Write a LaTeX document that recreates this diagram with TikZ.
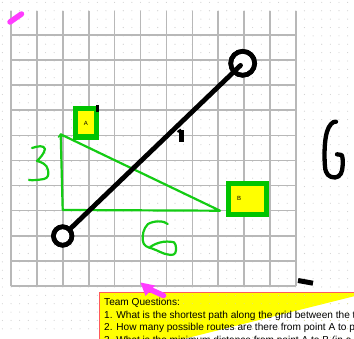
\documentclass[tikz,border=0pt]{standalone}
\usepackage{fontspec}
\setmainfont{Liberation Sans}
\usetikzlibrary{calc}
\definecolor{hgreen}{HTML}{14CC14}
\definecolor{boxgreen}{HTML}{00C400}
\definecolor{hyellow}{HTML}{FFFF00}
\definecolor{hmag}{HTML}{FF3CFF}
\definecolor{gridgray}{HTML}{B8B8B8}
\definecolor{dotgray}{HTML}{CFCFCF}
\definecolor{qborder}{HTML}{FF5A5A}
\tikzset{
  gridline/.style={draw=gridgray, line width=1.6pt},
  greenstroke/.style={draw=hgreen, line width=2.2pt, line cap=round, line join=round},
  inkstroke/.style={draw=black, line width=4.8pt, line cap=round, line join=round},
  labelbox/.style={draw=boxgreen, fill=hyellow, inner sep=0pt, font=\fontsize{6}{6}\selectfont},
  endcircle/.style={circle, draw=black, line width=4.6pt, fill=white, inner sep=0pt},
  qtext/.style={anchor=base west, inner sep=0pt, font=\fontsize{10.1}{12}\selectfont}
}
\begin{document}
\begin{tikzpicture}[x=1pt, y=-1pt]
\useasboundingbox (0,0) rectangle (354,339);
\clip (0,0) rectangle (354,339);
\fill[white] (0,0) rectangle (354,339);
% background dots
\foreach \i in {0,...,41} {
  \foreach \j in {0,...,39} {
    \fill[dotgray] ({2.4+8.63*\i},{2.4+8.37*\j}) circle (0.55pt);
  }
}
% grid
\foreach \k in {0,...,11} {
  \draw[gridline] ({11+25.9*\k},11) -- ({11+25.9*\k},286);
}
\foreach \k in {0,...,10} {
  \draw[gridline] (11,{35+25.1*\k}) -- (296,{35+25.1*\k});
}
% green triangle
\coordinate (ta) at (60.7,134.3);
\coordinate (tc) at (62.7,210);
\coordinate (tb) at (220,210.7);
\draw[greenstroke] (tb) -- (ta) -- (tc) -- (tb);
\draw[greenstroke, line width=1.5pt] (58.5,137) -- (ta) -- (63.5,136.5);
% label boxes
\node[labelbox, line width=5.5pt, minimum width=21pt, minimum height=28.5pt] (boxa) at (86,123) {A};
\node[labelbox, line width=5pt, minimum width=38pt, minimum height=30.5pt] (boxb) at (247,198.8) {\hspace*{-16pt}B};
% black line with end circles
\node[endcircle, minimum size=18.5pt] (c1) at (62.7,236) {};
\node[endcircle, minimum size=24pt] (c2) at (242.7,63.3) {};
\draw[inkstroke] (c1) -- ($(c2.center)!3pt!(c1.center)$);
\node[endcircle, minimum size=18.5pt, fill=none] at (c1.center) {};
\node[endcircle, minimum size=24pt, fill=none] at (c2.center) {};
% small black ticks
\draw[draw=black, line width=5pt] (181,130.5) -- (181,141.7);
\draw[draw=black, line width=2pt] (177.5,132) -- (181,129.5);
\draw[draw=black, line width=3pt] (97.7,105) -- (97.7,112);
% handwritten 3
\draw[greenstroke] (32,148) .. controls (38,146) and (44,145) .. (45,149)
  .. controls (44,154) and (40,158) .. (37,161)
  .. controls (41,162) and (47,164) .. (48,170)
  .. controls (49,175) and (48,178) .. (44,179)
  .. controls (38,180) and (33,180.5) .. (29,180);
% handwritten 6
\draw[greenstroke] (167.7,224) .. controls (164,220.5) and (154,220.5) .. (148,224)
  .. controls (143,229) and (142.5,235) .. (142.7,240)
  .. controls (143,246) and (148,247.5) .. (152,248.5)
  .. controls (158,250.5) and (163,254) .. (168,254.5)
  .. controls (172,255.5) and (176,255) .. (176,250)
  .. controls (176,246) and (175.5,243) .. (174,242.3)
  .. controls (170,241.3) and (164,241.3) .. (160,242.5)
  .. controls (156,243.5) and (152,245.5) .. (150,247.3);
% handwritten G
\draw[inkstroke, line width=4.3pt] (336,121.7) .. controls (333,121) and (329,125) .. (327,131.7)
  .. controls (324.5,140) and (324,155) .. (325,166.7)
  .. controls (325.5,174) and (329,177.5) .. (335,177.5)
  .. controls (340.5,177) and (342.5,172) .. (342.7,165)
  .. controls (343,160) and (342.5,156) .. (341.5,155)
  -- (337,154.3);
% dash bottom right
\draw[inkstroke, line width=5pt, line cap=butt] (298,280.5) -- (313,283.2);
% magenta mark top-left
\draw[draw=hmag, line width=5.5pt, line cap=round] (10,22) -- (21.5,14);
% question box
\draw[draw=qborder, fill=hyellow, line width=1.3pt] (99.3,360) -- (99.3,292.3) -- (370,292.3);
\foreach \i in {12,...,41} {
  \foreach \j in {35,...,40} {
    \fill[dotgray!70!hyellow] ({2.4+8.63*\i},{2.4+8.37*\j}) circle (0.5pt);
  }
}
\node[qtext] (q0) at (104,306) {Team Questions:};
\node[qtext] (q1) at (104,318.5) {1. What is the shortest path along the grid between the two points?};
\node[qtext] (q2) at (104,331) {2. How many possible routes are there from point A to point B?};
\node[qtext] (q3) at (104,343.5) {3. What is the minimum distance from point A to B (in a straight line)?};
% magenta pointer over the box
\fill[hmag] (140.5,282.5) -- (155,285.5) -- (145.5,296) -- cycle;
\draw[draw=hmag, line width=5.5pt, line cap=round] (148,288.5) -- (163.5,295.5);
\end{tikzpicture}
\end{document}
